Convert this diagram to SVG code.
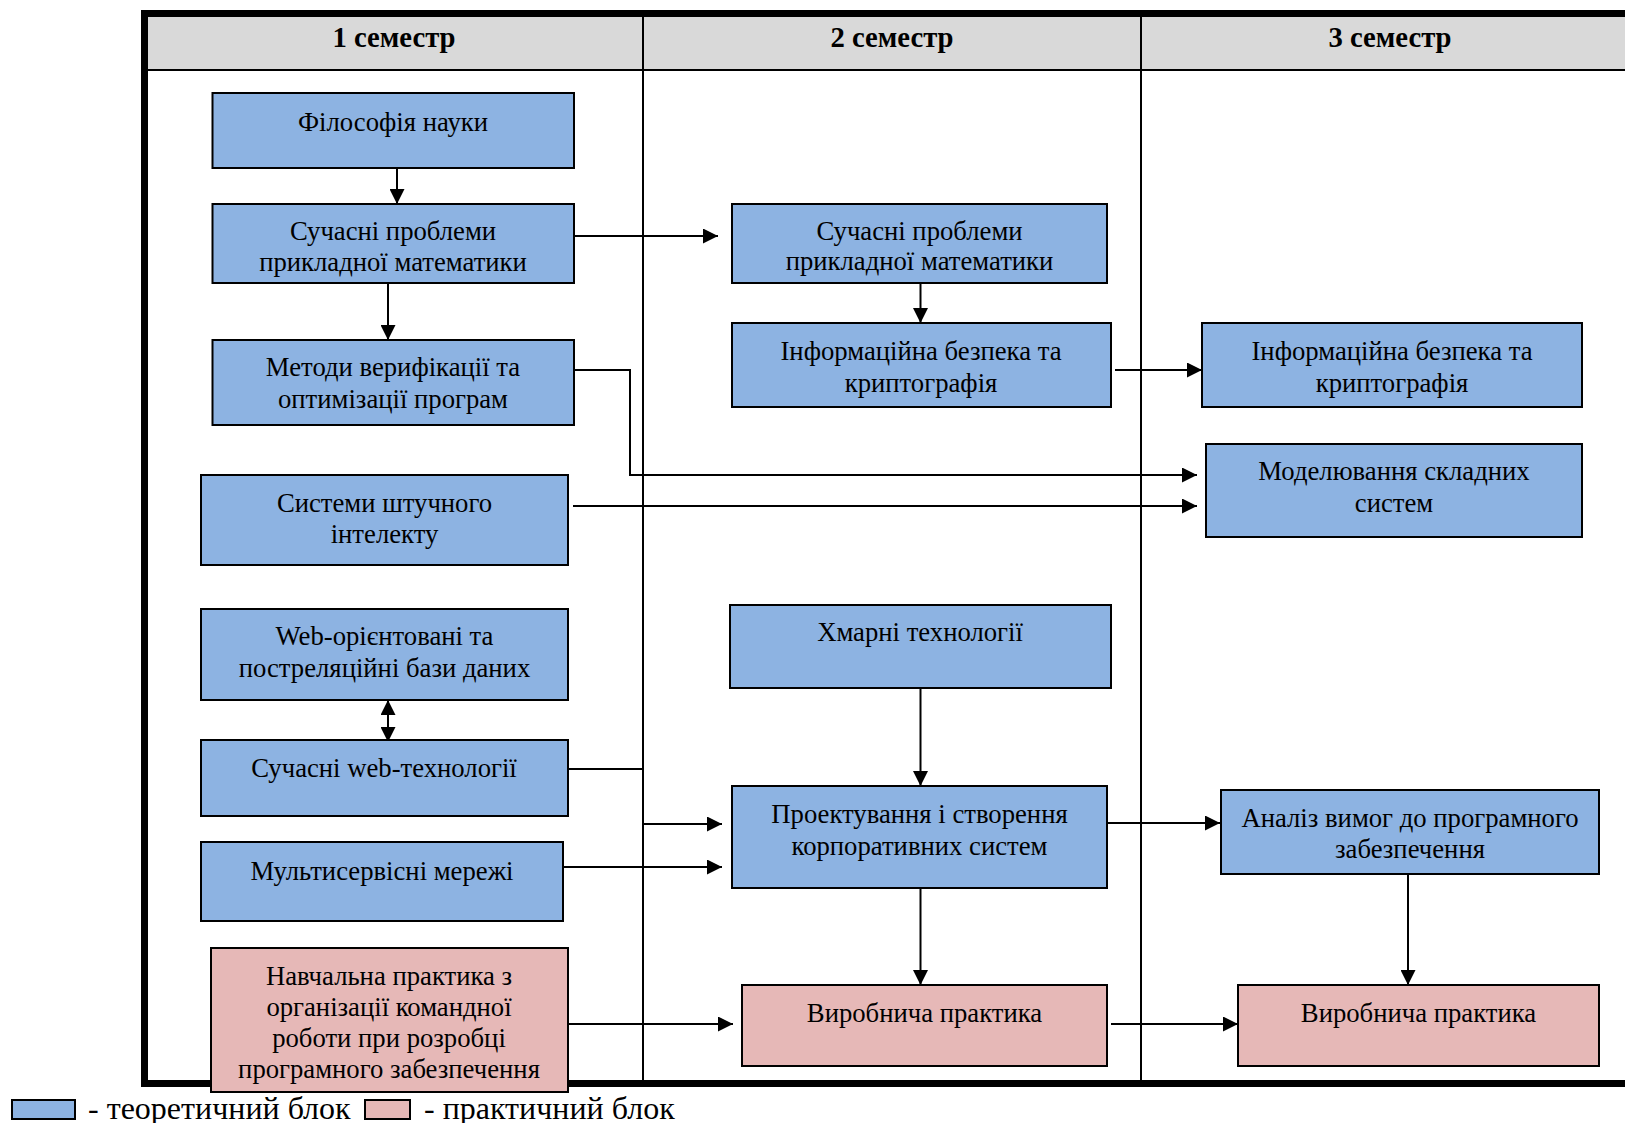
<svg xmlns="http://www.w3.org/2000/svg" width="1625" height="1123" viewBox="0 0 1625 1123">
<style>
.blue{fill:#8db3e2;stroke:#000;stroke-width:2}
.pink{fill:#e6b8b7;stroke:#000;stroke-width:2}
.t{font-family:"Liberation Serif","Times New Roman",serif;font-size:26.7px;text-anchor:middle;fill:#000}
.h{font-family:"Liberation Serif","Times New Roman",serif;font-size:28.7px;font-weight:bold;text-anchor:middle;fill:#000}
.lg{font-family:"Liberation Serif","Times New Roman",serif;font-size:32px;fill:#000}
.c{fill:none;stroke:#000;stroke-width:2}
.thick{stroke:#000;stroke-width:7}
.thin{stroke:#000;stroke-width:2}
</style>
<defs>
<marker id="ah" markerUnits="userSpaceOnUse" markerWidth="15" markerHeight="15" refX="14" refY="7" orient="auto-start-reverse" viewBox="0 0 14 14"><path d="M0,0 L14,7 L0,14 z" fill="#000"/></marker>
</defs>
<rect x="0" y="0" width="1625" height="1123" fill="#fff"/>
<g id="frame">
<rect x="145" y="17" width="1480" height="53" fill="#d9d9d9"/>
<line class="thin" x1="145" y1="70" x2="1625" y2="70"/>
<line class="thin" x1="643" y1="13" x2="643" y2="1083"/>
<line class="thin" x1="1141" y1="13" x2="1141" y2="1083"/>
<line class="thick" x1="141" y1="13.5" x2="1625" y2="13.5"/>
<line class="thick" x1="144.5" y1="10" x2="144.5" y2="1087"/>
<line class="thick" x1="141" y1="1083.5" x2="1625" y2="1083.5"/>
<text class="h" x="394" y="47">1 семестр</text>
<text class="h" x="892" y="47">2 семестр</text>
<text class="h" x="1390" y="47">3 семестр</text>
</g>
<g id="connectors">
<path class="c" d="M397,168 V204" marker-end="url(#ah)"/>
<path class="c" d="M388,283 V340" marker-end="url(#ah)"/>
<path class="c" d="M574,236 H718" marker-end="url(#ah)"/>
<path class="c" d="M920.5,283 V323" marker-end="url(#ah)"/>
<path class="c" d="M1115,370 H1202" marker-end="url(#ah)"/>
<path class="c" d="M574,370 H630 V475 H1197" marker-end="url(#ah)"/>
<path class="c" d="M573,506 H1197" marker-end="url(#ah)"/>
<path class="c" d="M388,700 V742" marker-start="url(#ah)" marker-end="url(#ah)"/>
<path class="c" d="M562,769 H643 V824 H722" marker-end="url(#ah)"/>
<path class="c" d="M561,867 H722" marker-end="url(#ah)"/>
<path class="c" d="M562,1024 H733" marker-end="url(#ah)"/>
<path class="c" d="M920.5,688 V786" marker-end="url(#ah)"/>
<path class="c" d="M1107,823 H1220" marker-end="url(#ah)"/>
<path class="c" d="M920.5,888 V985" marker-end="url(#ah)"/>
<path class="c" d="M1111,1024 H1238" marker-end="url(#ah)"/>
<path class="c" d="M1408,874 V985" marker-end="url(#ah)"/>
</g>
<g id="n1"><rect class="blue" x="212.5" y="93" width="361.5" height="75"/><text class="t" x="393" y="131">Філософія науки</text></g>
<g id="n2"><rect class="blue" x="212.5" y="204" width="361.5" height="79"/><text class="t" x="393" y="240">Сучасні проблеми</text><text class="t" x="393" y="271">прикладної математики</text></g>
<g id="n3"><rect class="blue" x="212.5" y="340" width="361.5" height="85"/><text class="t" x="393" y="376">Методи верифікації та</text><text class="t" x="393" y="408">оптимізації програм</text></g>
<g id="n4"><rect class="blue" x="201" y="475" width="367" height="90"/><text class="t" x="384.5" y="512">Системи штучного</text><text class="t" x="384.5" y="543">інтелекту</text></g>
<g id="n5"><rect class="blue" x="201" y="609" width="367" height="91"/><text class="t" x="384.5" y="645">Web-орієнтовані та</text><text class="t" x="384.5" y="677">постреляційні бази даних</text></g>
<g id="n6"><rect class="blue" x="201" y="740" width="367" height="76"/><text class="t" x="384" y="777">Сучасні web-технології</text></g>
<g id="n7"><rect class="blue" x="201" y="842" width="362" height="79"/><text class="t" x="382" y="880">Мультисервісні мережі</text></g>
<g id="n8"><rect class="pink" x="211" y="948" width="357" height="144"/><text class="t" x="389" y="985">Навчальна практика з</text><text class="t" x="389" y="1016">організації командної</text><text class="t" x="389" y="1047">роботи при розробці</text><text class="t" x="389" y="1078">програмного забезпечення</text></g>
<g id="n9"><rect class="blue" x="732" y="204" width="375" height="79"/><text class="t" x="919.5" y="240">Сучасні проблеми</text><text class="t" x="919.5" y="270">прикладної математики</text></g>
<g id="n10"><rect class="blue" x="732" y="323" width="379" height="84"/><text class="t" x="921" y="360">Інформаційна безпека та</text><text class="t" x="921" y="392">криптографія</text></g>
<g id="n11"><rect class="blue" x="730" y="605" width="381" height="83"/><text class="t" x="920" y="641">Хмарні технології</text></g>
<g id="n12"><rect class="blue" x="732" y="786" width="375" height="102"/><text class="t" x="919.5" y="823">Проектування і створення</text><text class="t" x="919.5" y="855">корпоративних систем</text></g>
<g id="n13"><rect class="pink" x="742" y="985" width="365" height="81"/><text class="t" x="924.5" y="1022">Виробнича практика</text></g>
<g id="n14"><rect class="blue" x="1202" y="323" width="380" height="84"/><text class="t" x="1392" y="360">Інформаційна безпека та</text><text class="t" x="1392" y="392">криптографія</text></g>
<g id="n15"><rect class="blue" x="1206" y="444" width="376" height="93"/><text class="t" x="1394" y="480">Моделювання складних</text><text class="t" x="1394" y="512">систем</text></g>
<g id="n16"><rect class="blue" x="1221" y="790" width="378" height="84"/><text class="t" x="1410" y="827">Аналіз вимог до програмного</text><text class="t" x="1410" y="858">забезпечення</text></g>
<g id="n17"><rect class="pink" x="1238" y="985" width="361" height="81"/><text class="t" x="1418.5" y="1022">Виробнича практика</text></g>
<g id="legend">
<rect class="blue" x="12" y="1100" width="63" height="19"/>
<text class="lg" x="88" y="1119">- теоретичний блок</text>
<rect class="pink" x="365" y="1100" width="45" height="19"/>
<text class="lg" x="424" y="1119">- практичний блок</text>
</g>
</svg>
